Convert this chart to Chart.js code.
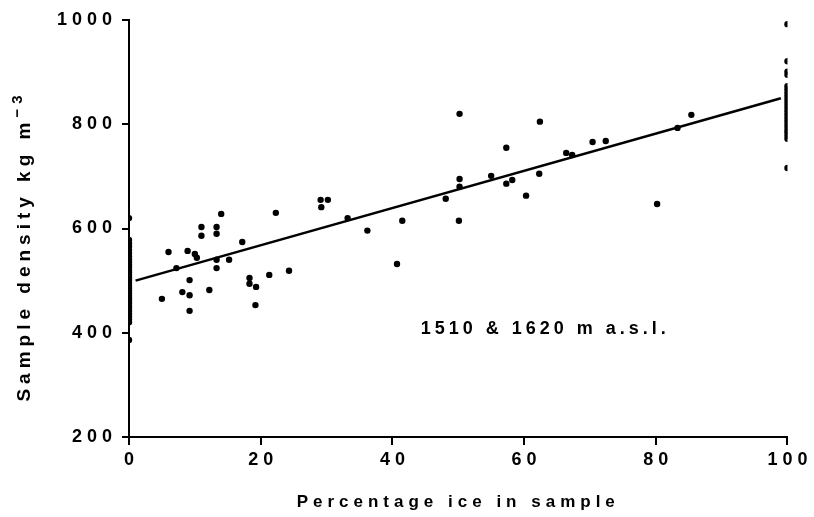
<!DOCTYPE html>
<html><head><meta charset="utf-8">
<script src="https://cdn.jsdelivr.net/npm/chart.js@4.4.1/dist/chart.umd.min.js"></script>
<style>html,body{margin:0;padding:0;background:#fff}canvas{display:block}</style>
</head><body>
<canvas id="c" width="814" height="517"></canvas>
<script>
// ---- data ----
const xTicks = [0, 20, 40, 60, 80, 100];
const yTicks = [200, 400, 600, 800, 1000];
// samples with 0 % ice (density, kg m-3)
const snowDensity = [620, 578, 571, 566, 559, 553, 547, 541, 536, 531, 526, 521, 516, 511, 506, 501, 496, 491, 486, 481, 476, 471, 466, 461, 456, 451, 446, 441, 436, 431, 426, 420, 386];
// samples with 100 % ice
const iceDensity = [992, 921, 901, 895, 873, 867, 861, 855, 849, 843, 837, 831, 825, 819, 813, 807, 801, 795, 789, 784, 778, 772, 716];
// mixed samples
const mixedIce = [5, 6, 7.2, 8.1, 8.9, 9.2, 9.2, 9.2, 10, 10.3, 11, 11, 12.2, 13.3, 13.3, 13.3, 13.3, 14, 15.2, 17.2, 18.3, 18.3, 19.3, 19.2, 21.3, 22.3, 24.3, 29.1, 30.2, 29.2, 33.2, 36.2, 40.7, 41.5, 48.1, 50.2, 50.2, 50.2, 50.1, 55, 57.3, 57.3, 58.2, 60.3, 62.4, 62.3, 66.4, 67.3, 70.4, 72.4, 80.2, 83.3, 85.4];
const mixedDensity = [465, 555, 524, 478, 557, 501, 472, 442, 551, 544, 603, 586, 482, 603, 590, 540, 524, 628, 540, 574, 505, 494, 488, 453, 511, 630, 519, 655, 655, 641, 620, 596, 532, 615, 657, 820, 695, 680, 615, 701, 755, 686, 693, 663, 805, 705, 745, 741, 766, 768, 647, 793, 818];
// regression line end points
const fitIce = [1, 99];
const fitDensity = [500, 850];
const xTitle = 'Percentage ice in sample';
const yTitleMain = 'Sample density kg m';
const yTitleExp = '\u22123';
const annotationText = '1510 & 1620 m a.s.l.';
const annotationAt = [44.3, 408];

// ---- build chart ----
const points = [];
snowDensity.forEach(v => points.push({x: 0, y: v}));
mixedIce.forEach((v, i) => points.push({x: v, y: mixedDensity[i]}));
iceDensity.forEach(v => points.push({x: 100, y: v}));
const fit = fitIce.map((v, i) => ({x: v, y: fitDensity[i]}));

const LS = '5px';
const FAMILY = "'Liberation Sans', Arial, Helvetica, sans-serif";
const spacing = {
  id: 'spacing',
  beforeInit(c) { c.ctx.letterSpacing = LS; },
  beforeUpdate(c) { c.ctx.letterSpacing = LS; },
  beforeDraw(c) { c.ctx.letterSpacing = LS; }
};
const annotate = {
  id: 'annotate',
  afterDraw(c) {
    const ctx = c.ctx;
    // annotation
    ctx.save();
    ctx.letterSpacing = '4px';
    ctx.font = 'bold 18px ' + FAMILY;
    ctx.fillStyle = '#000';
    ctx.textAlign = 'left';
    ctx.textBaseline = 'middle';
    ctx.fillText(annotationText, c.scales.x.getPixelForValue(annotationAt[0]), c.scales.y.getPixelForValue(annotationAt[1]));
    ctx.restore();
    // y-axis title with superscript exponent
    ctx.save();
    ctx.letterSpacing = LS;
    ctx.fillStyle = '#000';
    ctx.textAlign = 'left';
    ctx.textBaseline = 'middle';
    const mainFont = 'bold 19px ' + FAMILY;
    const expFont = 'bold 15px ' + FAMILY;
    ctx.font = mainFont;
    const wMain = ctx.measureText(yTitleMain).width;
    ctx.font = expFont;
    const wExp = ctx.measureText(yTitleExp).width;
    const total = wMain + wExp;
    ctx.translate(25, 246);
    ctx.rotate(-Math.PI / 2);
    ctx.font = mainFont;
    ctx.fillText(yTitleMain, -total / 2, 0);
    ctx.font = expFont;
    ctx.fillText(yTitleExp, -total / 2 + wMain, -7);
    ctx.restore();
  }
};

new Chart(document.getElementById('c'), {
  data: {
    datasets: [
      {type: 'line', data: fit, borderColor: '#000', borderWidth: 2.5, pointRadius: 0, fill: false, order: 1},
      {type: 'scatter', data: points, backgroundColor: '#000', borderWidth: 0, pointRadius: 3.2, order: 0}
    ]
  },
  options: {
    responsive: false,
    animation: false,
    devicePixelRatio: 1,
    layout: {padding: {left: 0, top: 20, right: 22, bottom: 0}},
    plugins: {legend: {display: false}, tooltip: {enabled: false}},
    scales: {
      x: {
        type: 'linear', min: 0, max: 100,
        afterBuildTicks: s => { s.ticks = xTicks.map(v => ({value: v})); },
        afterFit: s => { s.height = 80; },
        grid: {drawOnChartArea: false, drawTicks: true, tickLength: 8, color: '#000', lineWidth: 2},
        border: {display: true, color: '#000', width: 2},
        ticks: {color: '#000', font: {family: FAMILY, size: 18, weight: 'bold'}, padding: 4, labelOffset: 2.5, maxRotation: 0, callback: v => String(v)},
        title: {display: true, text: xTitle, color: '#000', font: {family: FAMILY, size: 17, weight: 'bold'}, padding: {top: 0, bottom: 4}}
      },
      y: {
        type: 'linear', min: 200, max: 1000,
        afterBuildTicks: s => { s.ticks = yTicks.map(v => ({value: v})); },
        afterFit: s => { s.width = 129; },
        grid: {drawOnChartArea: false, drawTicks: true, tickLength: 7, color: '#000', lineWidth: 2},
        border: {display: true, color: '#000', width: 2},
        ticks: {color: '#000', font: {family: FAMILY, size: 18, weight: 'bold'}, padding: 5, callback: v => String(v)},
        title: {display: false}
      }
    }
  },
  plugins: [spacing, annotate]
});
</script>
</body></html>
